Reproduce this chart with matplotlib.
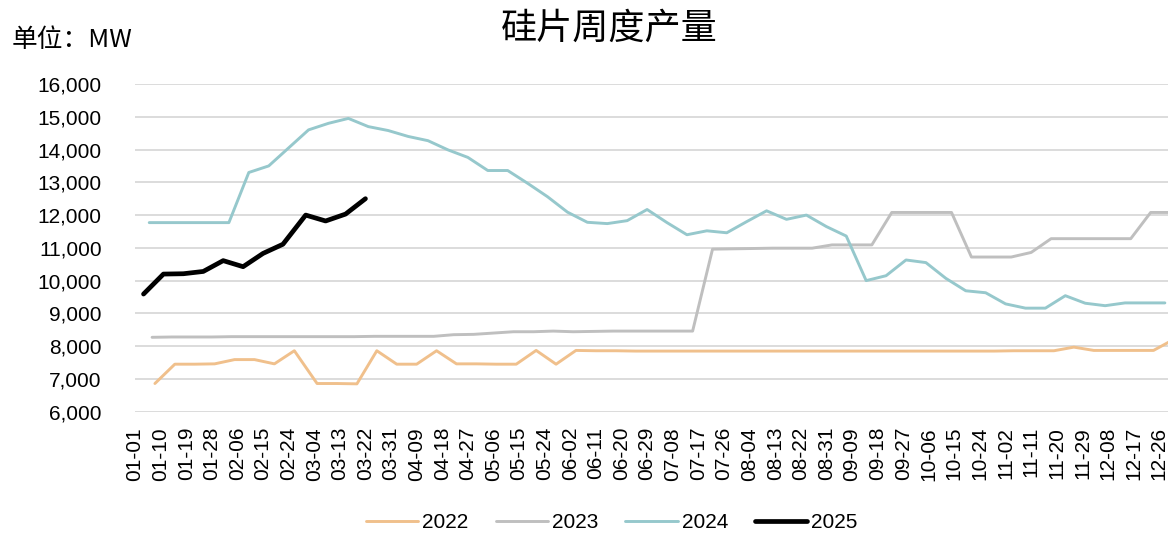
import matplotlib
matplotlib.use("Agg")
import matplotlib.pyplot as plt
from matplotlib.ticker import FuncFormatter
import pandas as pd

plt.rcParams["font.family"] = ["Liberation Sans", "Noto Sans CJK SC", "DejaVu Sans"]

# Weekly wafer output (MW), one value per week, starting at the first week of each year
years = ["2022", "2023", "2024", "2025"]
first_week = ["2022-01-08", "2023-01-07", "2024-01-06", "2025-01-04"]

output_2022 = [
    6860, 7450, 7450, 7460, 7590, 7590, 7460, 7860, 6860, 6860,
    6850, 7860, 7450, 7450, 7860, 7460, 7460, 7450, 7450, 7870,
    7450, 7870, 7860, 7860, 7850, 7850, 7850, 7850, 7850, 7850,
    7850, 7850, 7850, 7850, 7850, 7850, 7850, 7850, 7850, 7850,
    7850, 7850, 7850, 7860, 7860, 7860, 7970, 7870, 7870, 7870,
    7870, 8200,
]
output_2023 = [
    8270, 8280, 8280, 8280, 8290, 8290, 8290, 8290, 8290, 8290,
    8290, 8300, 8300, 8300, 8300, 8350, 8360, 8400, 8440, 8440,
    8460, 8440, 8450, 8460, 8460, 8460, 8460, 8460, 10960, 10970,
    10980, 10990, 10990, 10990, 11090, 11090, 11090, 12080, 12080, 12080,
    12080, 10720, 10720, 10720, 10860, 11280, 11280, 11280, 11280, 11280,
    12080, 12080,
]
output_2024 = [
    11770, 11770, 11770, 11770, 11770, 13300, 13500, 14050, 14600, 14800,
    14950, 14700, 14580, 14400, 14270, 13990, 13760, 13360, 13360, 12970,
    12560, 12090, 11780, 11740, 11830, 12170, 11770, 11400, 11520, 11460,
    11800, 12130, 11870, 12000, 11650, 11360, 10000, 10150, 10630, 10550,
    10070, 9690, 9630, 9290, 9160, 9160, 9540, 9310, 9235, 9320,
    9320, 9320,
]
output_2025 = [
    9590, 10200, 10210, 10280, 10610, 10425, 10830, 11110, 12000, 11820,
    12030, 12500,
]

series = [output_2022, output_2023, output_2024, output_2025]
colors = ["#F0C08C", "#BFBFBF", "#96C8CC", "#000000"]
widths = [2.1, 2.1, 2.1, 3.4]

x_labels = [
    "01-01", "01-10", "01-19", "01-28", "02-06", "02-15", "02-24", "03-04",
    "03-13", "03-22", "03-31", "04-09", "04-18", "04-27", "05-06", "05-15",
    "05-24", "06-02", "06-11", "06-20", "06-29", "07-08", "07-17", "07-26",
    "08-04", "08-13", "08-22", "08-31", "09-09", "09-18", "09-27", "10-06",
    "10-15", "10-24", "11-02", "11-11", "11-20", "11-29", "12-08", "12-17",
    "12-26",
]
y_ticks = [6000, 7000, 8000, 9000, 10000, 11000, 12000, 13000, 14000, 15000, 16000]

AXIS_YEAR = 2024
origin = pd.Timestamp(AXIS_YEAR, 1, 1)


def day_of_axis(ts):
    """Position of a date on a shared Jan-Dec axis (month-day only)."""
    return (pd.Timestamp(AXIS_YEAR, ts.month, ts.day) - origin).days


W, H = 1168, 535
fig = plt.figure(figsize=(W / 100, H / 100), dpi=100)
left_px, top_px, bottom_px = 135, 84, 411.7
ax = fig.add_axes([left_px / W, 1 - bottom_px / H, 1 - left_px / W, (bottom_px - top_px) / H])

for name, start, values, c, lw in zip(years, first_week, series, colors, widths):
    dates = pd.date_range(start, periods=len(values), freq="7D")
    xs = [day_of_axis(d) for d in dates]
    ax.plot(xs, values, color=c, lw=lw, label=name, solid_joinstyle="round",
            solid_capstyle="round", clip_on=True, zorder=3 if name == "2025" else 2)

tick_pos = [day_of_axis(pd.Timestamp(f"{AXIS_YEAR}-{lab}")) for lab in x_labels]
ax.set_xticks(tick_pos)
ax.set_xticklabels(x_labels, rotation=90, fontsize=15)
ax.set_xlim(0, (W - left_px) / 2.845)

ax.set_ylim(6000, 16000)
ax.set_yticks(y_ticks)
ax.yaxis.set_major_formatter(FuncFormatter(lambda v, _: f"{v:,.0f}"))
ax.tick_params(axis="y", labelsize=15, length=0, pad=24)
ax.tick_params(axis="x", length=0, pad=11)

ax.grid(axis="y", color="#D9D9D9", lw=1.3)
ax.set_axisbelow(True)
for s in ax.spines.values():
    s.set_visible(False)

fig.text(609 / W, 1 - 29 / H, "硅片周度产量", ha="center", va="center", fontsize=26,
         family=["Noto Sans CJK SC"])
fig.text(12 / W, 1 - 40 / H, "单位：MW", ha="left", va="center", fontsize=18.5,
         family=["Noto Sans CJK SC"])

fig.legend(loc="center", bbox_to_anchor=(612 / W, 1 - 523 / H), ncol=4, frameon=False,
           fontsize=15, handlelength=2.5, handletextpad=0.2, columnspacing=1.3)

fig.savefig("out.png", dpi=100)
